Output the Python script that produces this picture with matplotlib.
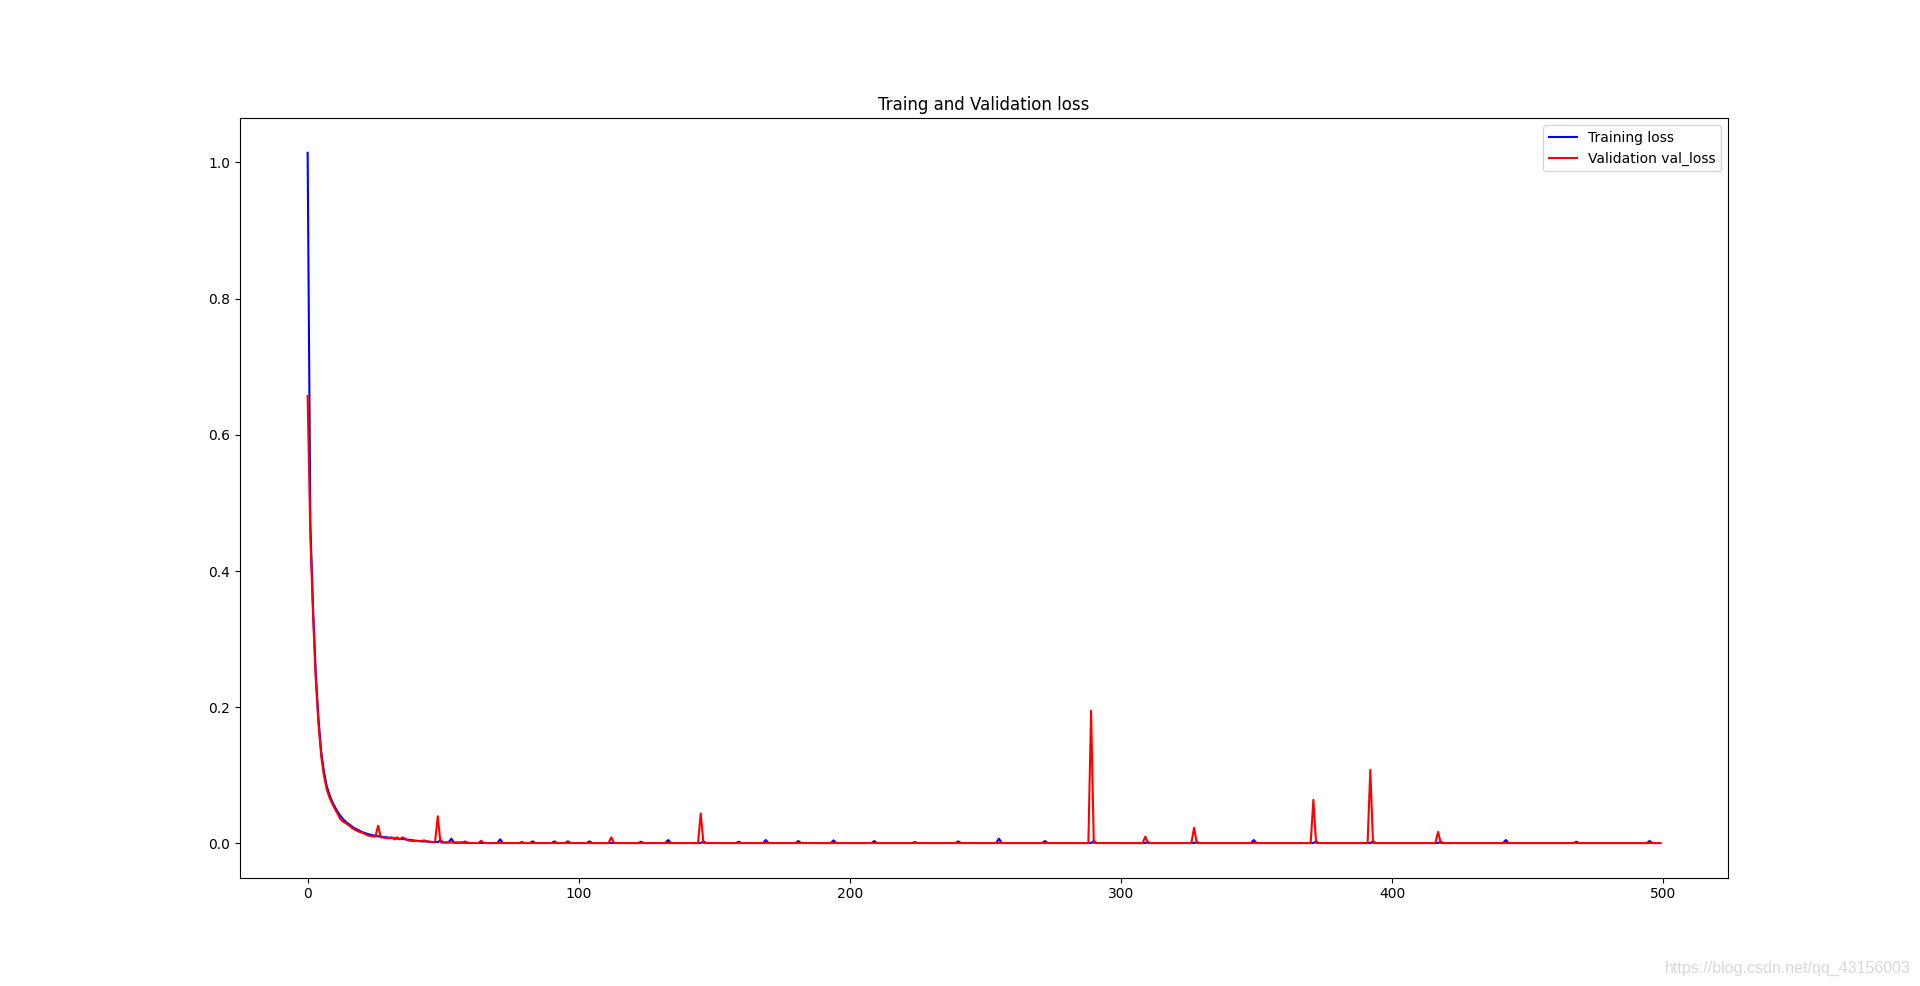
import numpy as np
import matplotlib
matplotlib.use("Agg")
import matplotlib.pyplot as plt

n_epochs = 500

# first 60 epochs
train_head = [1.014, 0.47, 0.345, 0.25, 0.183, 0.135, 0.106, 0.085, 0.072, 0.062,
              0.054, 0.047, 0.041, 0.036, 0.032, 0.029, 0.026, 0.023, 0.021, 0.019,
              0.017, 0.0155, 0.014, 0.013, 0.012, 0.011, 0.0105, 0.010, 0.0095, 0.009,
              0.0085, 0.008, 0.0075, 0.007, 0.0068, 0.0065, 0.006, 0.0055, 0.005, 0.0045,
              0.004, 0.0035, 0.003, 0.003, 0.0028, 0.0025, 0.0022, 0.002, 0.002, 0.005,
              0.0015, 0.0015, 0.0015, 0.007, 0.0012, 0.0012, 0.0012, 0.0012, 0.001, 0.001]
val_head = [0.657, 0.45, 0.335, 0.24, 0.175, 0.128, 0.100, 0.080, 0.068, 0.059,
            0.051, 0.044, 0.036, 0.032, 0.030, 0.027, 0.024, 0.021, 0.019, 0.017,
            0.016, 0.014, 0.012, 0.011, 0.0105, 0.010, 0.026, 0.009, 0.0085, 0.008,
            0.0075, 0.009, 0.006, 0.009, 0.006, 0.009, 0.007, 0.0045, 0.004, 0.0035,
            0.0035, 0.0035, 0.0035, 0.0045, 0.003, 0.0025, 0.002, 0.002, 0.040, 0.0015,
            0.0015, 0.0015, 0.0015, 0.0015, 0.0012, 0.0012, 0.0012, 0.0012, 0.003, 0.001]

# flat tail level after epoch 60
tail_level = 0.0006

# isolated bumps in the tail (epoch -> value)
train_spike_epochs = [71, 79, 83, 91, 96, 104, 123, 133, 146, 159, 169, 181, 194, 209,
                      224, 240, 255, 272, 290, 310, 328, 349, 372, 393, 418, 442, 468, 495]
train_spike_vals = [0.006, 0.002, 0.003, 0.003, 0.003, 0.003, 0.0025, 0.005, 0.003, 0.0025,
                    0.005, 0.0035, 0.0045, 0.0035, 0.002, 0.003, 0.007, 0.0035, 0.0035, 0.002,
                    0.002, 0.005, 0.003, 0.003, 0.0025, 0.005, 0.0025, 0.0035]
val_spike_epochs = [64, 112, 145, 289, 309, 327, 371, 392, 417]
val_spike_vals = [0.004, 0.009, 0.044, 0.195, 0.010, 0.023, 0.064, 0.108, 0.017]

loss = np.array(train_head + [tail_level] * (n_epochs - len(train_head)))
val_loss = np.array(val_head + [tail_level] * (n_epochs - len(val_head)))
loss[train_spike_epochs] = train_spike_vals
val_loss[val_spike_epochs] = val_spike_vals

epochs = range(n_epochs)

fig = plt.figure(figsize=(19.2, 9.86), dpi=100)
plt.plot(epochs, loss, 'b', label='Training loss')
plt.plot(epochs, val_loss, 'r', label='Validation val_loss')
plt.title('Traing and Validation loss')
plt.legend()
fig.text(0.995, 0.01, 'https://blog.csdn.net/qq_43156003', ha='right', va='bottom',
         fontsize=11.5, color='#d8d8d8', family='Liberation Sans')
plt.savefig('out.png', dpi=100)
